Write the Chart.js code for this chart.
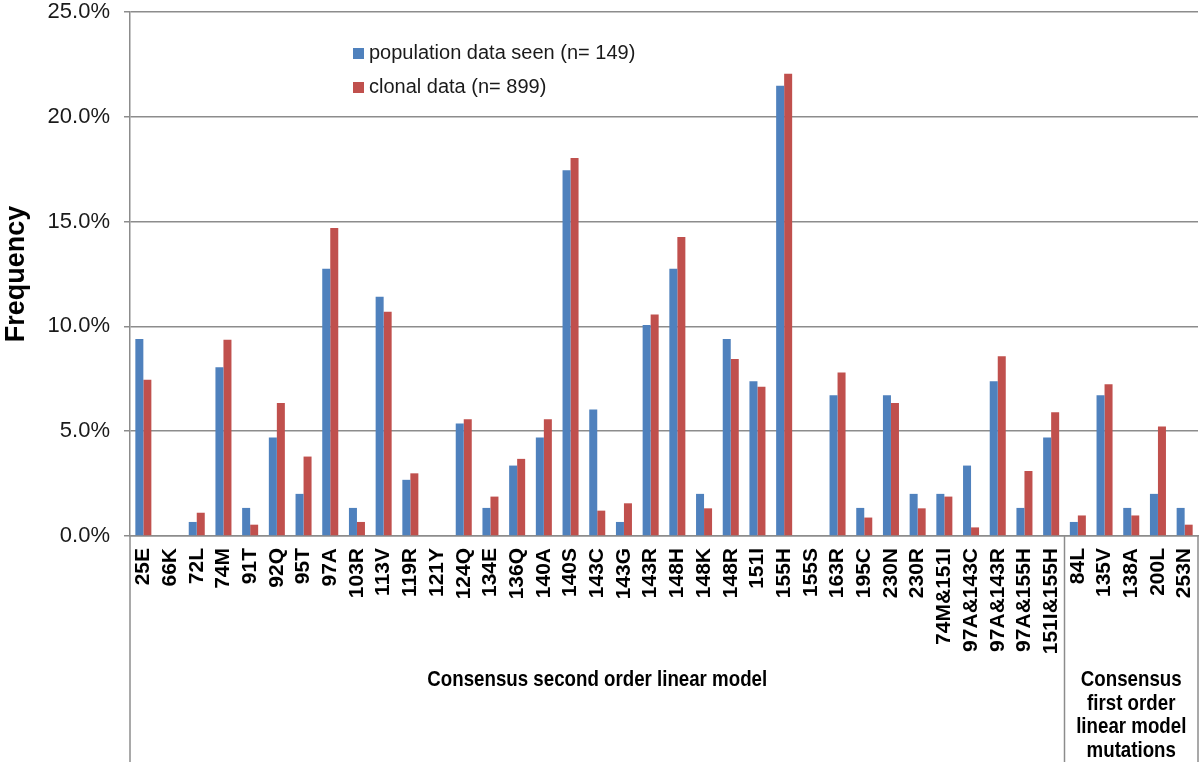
<!DOCTYPE html>
<html>
<head>
<meta charset="utf-8">
<script src="https://cdn.jsdelivr.net/npm/chart.js@4.4.1/dist/chart.umd.min.js"></script>
<style>
  html, body { margin: 0; padding: 0; background: #fff; }
  #wrap { width: 1200px; height: 762px; position: relative; }
</style>
</head>
<body>
<div id="wrap"><canvas id="freqChart"></canvas></div>
<script>
// Mutations on the x axis (first 35 = second order model, last 5 = first order model)
const mutations = ['25E', '66K', '72L', '74M', '91T', '92Q', '95T', '97A', '103R', '113V',
  '119R', '121Y', '124Q', '134E', '136Q', '140A', '140S', '143C', '143G', '143R',
  '148H', '148K', '148R', '151I', '155H', '155S', '163R', '195C', '230N', '230R',
  '74M&151I', '97A&143C', '97A&143R', '97A&155H', '151I&155H',
  '84L', '135V', '138A', '200L', '253N'];
const groupSizes = [35, 5];
const groupLabels = [
  ['Consensus second order linear model'],
  ['Consensus', 'first order', 'linear model', 'mutations'],
];

// Frequency (%)
const populationSeen = [9.40, 0, 0.67, 8.05, 1.34, 4.70, 2.01, 12.75, 1.34, 11.41,
  2.68, 0, 5.37, 1.34, 3.36, 4.70, 17.45, 6.04, 0.67, 10.07,
  12.75, 2.01, 9.40, 7.38, 21.48, 0, 6.71, 1.34, 6.71, 2.01,
  2.01, 3.36, 7.38, 1.34, 4.70,
  0.67, 6.71, 1.34, 2.01, 1.34];
const clonalData = [7.45, 0, 1.11, 9.36, 0.54, 6.35, 3.79, 14.69, 0.67, 10.70,
  2.99, 0, 5.57, 1.88, 3.68, 5.57, 18.04, 1.21, 1.56, 10.57,
  14.26, 1.32, 8.44, 7.12, 22.05, 0, 7.80, 0.88, 6.35, 1.32,
  1.88, 0.41, 8.57, 3.10, 5.90,
  0.98, 7.24, 0.98, 5.22, 0.54];

const seriesNames = ['population data seen (n= 149)', 'clonal data (n= 899)'];
const yMax = 25;
const yStep = 5;

const palette = {
  blue: '#4F81BD',
  red: '#C0504D',
  grid: '#8c8c8c',
  text: '#1a1a1a',
};
const plainFont = "'Liberation Sans', Arial, sans-serif";

// Legend sits inside the plot, like the Excel original
const insideLegend = {
  id: 'insideLegend',
  afterDraw(chart) {
    const ctx = chart.ctx;
    const colors = [palette.blue, palette.red];
    ctx.save();
    ctx.font = '20px ' + plainFont;
    ctx.textBaseline = 'middle';
    seriesNames.forEach((name, i) => {
      const y = 53 + i * 34;
      ctx.fillStyle = colors[i];
      ctx.fillRect(353, y - 5, 11, 11);
      ctx.fillStyle = palette.text;
      ctx.fillText(name, 369, y);
    });
    ctx.restore();
  },
};

// Multi-level category axis: separators and group names under the tick labels
const groupAxis = {
  id: 'groupAxis',
  afterDraw(chart) {
    const { ctx, chartArea } = chart;
    const x = chart.scales.x;
    const half = (x.getPixelForTick(1) - x.getPixelForTick(0)) / 2;
    const bounds = [chartArea.left];
    let count = 0;
    groupSizes.forEach((n) => {
      count += n;
      bounds.push(x.getPixelForTick(count - 1) + half);
    });
    ctx.save();
    ctx.strokeStyle = palette.grid;
    ctx.lineWidth = 1.5;
    bounds.forEach((bx) => {
      ctx.beginPath();
      ctx.moveTo(bx, chartArea.bottom);
      ctx.lineTo(bx, chart.height);
      ctx.stroke();
    });
    ctx.font = 'bold 22px ' + plainFont;
    ctx.fillStyle = '#000';
    ctx.textAlign = 'center';
    ctx.textBaseline = 'middle';
    groupLabels.forEach((lines, i) => {
      const cx = (bounds[i] + bounds[i + 1]) / 2;
      lines.forEach((t, j) => {
        // condensed look of the original (Arial Narrow)
        ctx.save();
        ctx.translate(cx, 680 + j * 23.5);
        ctx.scale(0.85, 1);
        ctx.fillText(t, 0, 0);
        ctx.restore();
      });
    });
    ctx.restore();
  },
};

new Chart(document.getElementById('freqChart'), {
  type: 'bar',
  data: {
    labels: mutations,
    datasets: [
      {
        label: seriesNames[0],
        data: populationSeen,
        backgroundColor: palette.blue,
        categoryPercentage: 0.6,
        barPercentage: 1.0,
      },
      {
        label: seriesNames[1],
        data: clonalData,
        backgroundColor: palette.red,
        categoryPercentage: 0.6,
        barPercentage: 1.0,
      },
    ],
  },
  options: {
    responsive: true,
    maintainAspectRatio: false,
    animation: false,
    layout: { padding: { top: 12, right: 2, left: 0, bottom: 0 } },
    plugins: {
      legend: { display: false },
      tooltip: { enabled: false },
    },
    scales: {
      x: {
        grid: { display: false, drawTicks: false },
        border: { display: true, color: palette.grid, width: 1.5 },
        ticks: {
          autoSkip: false,
          minRotation: 90,
          maxRotation: 90,
          padding: 12,
          color: '#000',
          font: { family: plainFont, size: 21, weight: 'bold' },
        },
        afterFit: (scale) => {
          scale.height = 226;
          scale.paddingLeft = 0;
          scale.paddingRight = 0;
        },
      },
      y: {
        min: 0,
        max: yMax,
        ticks: {
          stepSize: yStep,
          padding: 14,
          color: palette.text,
          font: { family: plainFont, size: 22 },
          callback: (v) => v.toFixed(1) + '%',
        },
        grid: { color: palette.grid, lineWidth: 1.5, tickLength: 6 },
        border: { color: palette.grid, width: 1.5 },
        title: {
          display: true,
          text: 'Frequency',
          color: '#000',
          padding: 0,
          font: { family: plainFont, size: 27, weight: 'bold' },
        },
        afterFit: (scale) => {
          scale.width = 130;
          scale.paddingTop = 0;
          scale.paddingBottom = 0;
        },
      },
    },
  },
  plugins: [insideLegend, groupAxis],
});
</script>
</body>
</html>
